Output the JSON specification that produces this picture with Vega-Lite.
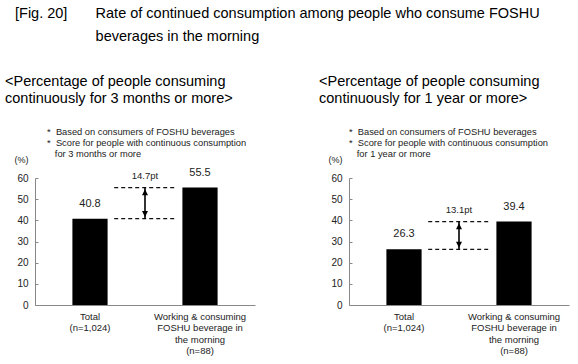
{
  "$schema": "https://vega.github.io/schema/vega-lite/v6.json",
  "padding": {"left": 5, "top": 5, "right": 5, "bottom": 5},
  "config": {
    "font": "Liberation Sans",
    "view": {"stroke": null},
    "axis": {"grid": false, "domainColor": "#888", "tickColor": "#888", "labelColor": "#222", "labelFont": "Liberation Sans", "titleFont": "Liberation Sans"},
    "axisY": {"labelFontSize": 10, "labelPadding": 10, "tickSize": -3, "labelOverlap": false, "titleAngle": 0, "titleAlign": "right", "titleBaseline": "middle", "titleX": -7, "titleY": -19, "titleFontSize": 9, "titleFontWeight": "normal", "titleColor": "#222"},
    "axisX": {"labelAngle": 0, "labelFontSize": 9.5, "labelLineHeight": 11.5, "labelPadding": 6, "ticks": false},
    "title": {"font": "Liberation Sans", "fontWeight": "normal", "color": "#000"},
    "concat": {"spacing": 64}
  },
  "title": {
    "text": ["[Fig. 20]\u00a0\u00a0\u00a0\u00a0\u00a0\u00a0\u00a0Rate of continued consumption among people who consume FOSHU", "\u200b\u00a0\u00a0\u00a0\u00a0\u00a0\u00a0\u00a0\u00a0\u00a0\u00a0\u00a0\u00a0\u00a0\u00a0\u00a0\u00a0\u00a0\u00a0\u00a0\u00a0beverages in the morning"],
    "anchor": "start", "frame": "bounds", "fontSize": 14.5, "lineHeight": 23, "dx": 10, "offset": 30
  },
  "datasets": {
    "bars": [
      {"panel": "3m", "group": "Total|(n=1,024)", "value": 40.8},
      {"panel": "3m", "group": "Working & consuming|FOSHU beverage in|the morning|(n=88)", "value": 55.5},
      {"panel": "1y", "group": "Total|(n=1,024)", "value": 26.3},
      {"panel": "1y", "group": "Working & consuming|FOSHU beverage in|the morning|(n=88)", "value": 39.4}
    ],
    "diffs": [
      {"panel": "3m", "low": 40.8, "high": 55.5, "diff": "14.7pt"},
      {"panel": "1y", "low": 26.3, "high": 39.4, "diff": "13.1pt"}
    ],
    "notes": [
      {"panel": "3m", "note": ["*\u00a0\u00a0Based on consumers of FOSHU beverages", "*\u00a0\u00a0Score for people with continuous consumption", "\u200b\u00a0\u00a0\u00a0for 3 months or more"]},
      {"panel": "1y", "note": ["*\u00a0\u00a0Based on consumers of FOSHU beverages", "*\u00a0\u00a0Score for people with continuous consumption", "\u200b\u00a0\u00a0\u00a0for 1 year or more"]}
    ]
  },
  "hconcat": [
    {
      "width": 220, "height": 127,
      "title": {"text": ["<Percentage of people consuming ", "continuously for 3 months or more>"], "anchor": "start", "frame": "bounds", "fontSize": 14.5, "lineHeight": 16.5, "dx": -9, "offset": 22},
      "layer": [
        {
          "data": {"name": "bars"}, "transform": [{"filter": "datum.panel === '3m'"}],
          "mark": {"type": "bar", "color": "#000", "width": {"band": 0.32}},
          "encoding": {
            "x": {"field": "group", "type": "nominal", "scale": {"domain": ["Total|(n=1,024)", "Working & consuming|FOSHU beverage in|the morning|(n=88)"], "paddingInner": 0, "paddingOuter": 0},
              "axis": {"title": null, "labelExpr": "split(datum.value, '|')"}},
            "y": {"field": "value", "type": "quantitative", "scale": {"domain": [0, 60], "nice": false},
              "axis": {"values": [0, 10, 20, 30, 40, 50, 60], "title": "(%)"}}
          }
        },
        {
          "data": {"name": "bars"}, "transform": [{"filter": "datum.panel === '3m'"}],
          "mark": {"type": "text", "baseline": "bottom", "dy": -10, "fontSize": 11, "color": "#222"},
          "encoding": {
            "x": {"field": "group", "type": "nominal", "axis": {"title": null, "labelExpr": "split(datum.value, '|')"}},
            "y": {"field": "value", "type": "quantitative", "axis": {"values": [0, 10, 20, 30, 40, 50, 60], "title": "(%)"}},
            "text": {"field": "value", "type": "quantitative", "format": ".1f"}
          }
        },
        {
          "data": {"name": "diffs"}, "transform": [{"filter": "datum.panel === '3m'"}],
          "mark": {"type": "rule", "strokeDash": [4, 3], "strokeWidth": 1.3, "color": "#111"},
          "encoding": {
            "x": {"datum": "Total|(n=1,024)", "type": "nominal", "bandPosition": 0.72, "axis": {"title": null, "labelExpr": "split(datum.value, '|')"}},
            "x2": {"datum": "Working & consuming|FOSHU beverage in|the morning|(n=88)", "bandPosition": 0.27},
            "y": {"field": "low", "type": "quantitative", "axis": {"values": [0, 10, 20, 30, 40, 50, 60], "title": "(%)"}}
          }
        },
        {
          "data": {"name": "diffs"}, "transform": [{"filter": "datum.panel === '3m'"}],
          "mark": {"type": "rule", "strokeDash": [4, 3], "strokeWidth": 1.3, "color": "#111"},
          "encoding": {
            "x": {"datum": "Total|(n=1,024)", "type": "nominal", "bandPosition": 0.72, "axis": {"title": null, "labelExpr": "split(datum.value, '|')"}},
            "x2": {"datum": "Working & consuming|FOSHU beverage in|the morning|(n=88)", "bandPosition": 0.27},
            "y": {"field": "high", "type": "quantitative", "axis": {"values": [0, 10, 20, 30, 40, 50, 60], "title": "(%)"}}
          }
        },
        {
          "data": {"name": "diffs"}, "transform": [{"filter": "datum.panel === '3m'"}],
          "mark": {"type": "rule", "strokeWidth": 1.6, "color": "#000"},
          "encoding": {
            "x": {"datum": "Total|(n=1,024)", "type": "nominal", "bandPosition": 1, "axis": {"title": null, "labelExpr": "split(datum.value, '|')"}},
            "y": {"field": "low", "type": "quantitative", "axis": {"values": [0, 10, 20, 30, 40, 50, 60], "title": "(%)"}},
            "y2": {"field": "high"}
          }
        },
        {
          "data": {"name": "diffs"}, "transform": [{"filter": "datum.panel === '3m'"}],
          "mark": {"type": "point", "filled": true, "opacity": 1, "color": "#000", "size": 121, "shape": "M0,0.3L0.55,1.4L-0.55,1.4Z"},
          "encoding": {
            "x": {"datum": "Total|(n=1,024)", "type": "nominal", "bandPosition": 1, "axis": {"title": null, "labelExpr": "split(datum.value, '|')"}},
            "y": {"field": "high", "type": "quantitative", "axis": {"values": [0, 10, 20, 30, 40, 50, 60], "title": "(%)"}}
          }
        },
        {
          "data": {"name": "diffs"}, "transform": [{"filter": "datum.panel === '3m'"}],
          "mark": {"type": "point", "filled": true, "opacity": 1, "color": "#000", "size": 121, "shape": "M0,-0.3L0.55,-1.4L-0.55,-1.4Z"},
          "encoding": {
            "x": {"datum": "Total|(n=1,024)", "type": "nominal", "bandPosition": 1, "axis": {"title": null, "labelExpr": "split(datum.value, '|')"}},
            "y": {"field": "low", "type": "quantitative", "axis": {"values": [0, 10, 20, 30, 40, 50, 60], "title": "(%)"}}
          }
        },
        {
          "data": {"name": "diffs"}, "transform": [{"filter": "datum.panel === '3m'"}],
          "mark": {"type": "text", "baseline": "bottom", "dy": -7, "fontSize": 9.5, "color": "#222"},
          "encoding": {
            "x": {"datum": "Total|(n=1,024)", "type": "nominal", "bandPosition": 1, "axis": {"title": null, "labelExpr": "split(datum.value, '|')"}},
            "y": {"field": "high", "type": "quantitative", "axis": {"values": [0, 10, 20, 30, 40, 50, 60], "title": "(%)"}},
            "text": {"field": "diff", "type": "nominal"}
          }
        },
        {
          "data": {"name": "notes"}, "transform": [{"filter": "datum.panel === '3m'"}],
          "mark": {"type": "text", "align": "left", "baseline": "top", "dy": -50, "fontSize": 9.3, "lineHeight": 11, "color": "#222"},
          "encoding": {
            "x": {"datum": "Total|(n=1,024)", "type": "nominal", "bandPosition": 0.11, "axis": {"title": null, "labelExpr": "split(datum.value, '|')"}},
            "y": {"datum": 60, "type": "quantitative", "axis": {"values": [0, 10, 20, 30, 40, 50, 60], "title": "(%)"}},
            "text": {"field": "note", "type": "nominal"}
          }
        }
      ]
    },
    {
      "width": 220, "height": 127,
      "title": {"text": ["<Percentage of people consuming ", "continuously for 1 year or more>"], "anchor": "start", "frame": "bounds", "fontSize": 14.5, "lineHeight": 16.5, "dx": -9, "offset": 22},
      "layer": [
        {
          "data": {"name": "bars"}, "transform": [{"filter": "datum.panel === '1y'"}],
          "mark": {"type": "bar", "color": "#000", "width": {"band": 0.32}},
          "encoding": {
            "x": {"field": "group", "type": "nominal", "scale": {"domain": ["Total|(n=1,024)", "Working & consuming|FOSHU beverage in|the morning|(n=88)"], "paddingInner": 0, "paddingOuter": 0},
              "axis": {"title": null, "labelExpr": "split(datum.value, '|')"}},
            "y": {"field": "value", "type": "quantitative", "scale": {"domain": [0, 60], "nice": false},
              "axis": {"values": [0, 10, 20, 30, 40, 50, 60], "title": "(%)"}}
          }
        },
        {
          "data": {"name": "bars"}, "transform": [{"filter": "datum.panel === '1y'"}],
          "mark": {"type": "text", "baseline": "bottom", "dy": -10, "fontSize": 11, "color": "#222"},
          "encoding": {
            "x": {"field": "group", "type": "nominal", "axis": {"title": null, "labelExpr": "split(datum.value, '|')"}},
            "y": {"field": "value", "type": "quantitative", "axis": {"values": [0, 10, 20, 30, 40, 50, 60], "title": "(%)"}},
            "text": {"field": "value", "type": "quantitative", "format": ".1f"}
          }
        },
        {
          "data": {"name": "diffs"}, "transform": [{"filter": "datum.panel === '1y'"}],
          "mark": {"type": "rule", "strokeDash": [4, 3], "strokeWidth": 1.3, "color": "#111"},
          "encoding": {
            "x": {"datum": "Total|(n=1,024)", "type": "nominal", "bandPosition": 0.72, "axis": {"title": null, "labelExpr": "split(datum.value, '|')"}},
            "x2": {"datum": "Working & consuming|FOSHU beverage in|the morning|(n=88)", "bandPosition": 0.27},
            "y": {"field": "low", "type": "quantitative", "axis": {"values": [0, 10, 20, 30, 40, 50, 60], "title": "(%)"}}
          }
        },
        {
          "data": {"name": "diffs"}, "transform": [{"filter": "datum.panel === '1y'"}],
          "mark": {"type": "rule", "strokeDash": [4, 3], "strokeWidth": 1.3, "color": "#111"},
          "encoding": {
            "x": {"datum": "Total|(n=1,024)", "type": "nominal", "bandPosition": 0.72, "axis": {"title": null, "labelExpr": "split(datum.value, '|')"}},
            "x2": {"datum": "Working & consuming|FOSHU beverage in|the morning|(n=88)", "bandPosition": 0.27},
            "y": {"field": "high", "type": "quantitative", "axis": {"values": [0, 10, 20, 30, 40, 50, 60], "title": "(%)"}}
          }
        },
        {
          "data": {"name": "diffs"}, "transform": [{"filter": "datum.panel === '1y'"}],
          "mark": {"type": "rule", "strokeWidth": 1.6, "color": "#000"},
          "encoding": {
            "x": {"datum": "Total|(n=1,024)", "type": "nominal", "bandPosition": 1, "axis": {"title": null, "labelExpr": "split(datum.value, '|')"}},
            "y": {"field": "low", "type": "quantitative", "axis": {"values": [0, 10, 20, 30, 40, 50, 60], "title": "(%)"}},
            "y2": {"field": "high"}
          }
        },
        {
          "data": {"name": "diffs"}, "transform": [{"filter": "datum.panel === '1y'"}],
          "mark": {"type": "point", "filled": true, "opacity": 1, "color": "#000", "size": 121, "shape": "M0,0.3L0.55,1.4L-0.55,1.4Z"},
          "encoding": {
            "x": {"datum": "Total|(n=1,024)", "type": "nominal", "bandPosition": 1, "axis": {"title": null, "labelExpr": "split(datum.value, '|')"}},
            "y": {"field": "high", "type": "quantitative", "axis": {"values": [0, 10, 20, 30, 40, 50, 60], "title": "(%)"}}
          }
        },
        {
          "data": {"name": "diffs"}, "transform": [{"filter": "datum.panel === '1y'"}],
          "mark": {"type": "point", "filled": true, "opacity": 1, "color": "#000", "size": 121, "shape": "M0,-0.3L0.55,-1.4L-0.55,-1.4Z"},
          "encoding": {
            "x": {"datum": "Total|(n=1,024)", "type": "nominal", "bandPosition": 1, "axis": {"title": null, "labelExpr": "split(datum.value, '|')"}},
            "y": {"field": "low", "type": "quantitative", "axis": {"values": [0, 10, 20, 30, 40, 50, 60], "title": "(%)"}}
          }
        },
        {
          "data": {"name": "diffs"}, "transform": [{"filter": "datum.panel === '1y'"}],
          "mark": {"type": "text", "baseline": "bottom", "dy": -7, "fontSize": 9.5, "color": "#222"},
          "encoding": {
            "x": {"datum": "Total|(n=1,024)", "type": "nominal", "bandPosition": 1, "axis": {"title": null, "labelExpr": "split(datum.value, '|')"}},
            "y": {"field": "high", "type": "quantitative", "axis": {"values": [0, 10, 20, 30, 40, 50, 60], "title": "(%)"}},
            "text": {"field": "diff", "type": "nominal"}
          }
        },
        {
          "data": {"name": "notes"}, "transform": [{"filter": "datum.panel === '1y'"}],
          "mark": {"type": "text", "align": "left", "baseline": "top", "dy": -50, "fontSize": 9.3, "lineHeight": 11, "color": "#222"},
          "encoding": {
            "x": {"datum": "Total|(n=1,024)", "type": "nominal", "bandPosition": 0, "axis": {"title": null, "labelExpr": "split(datum.value, '|')"}},
            "y": {"datum": 60, "type": "quantitative", "axis": {"values": [0, 10, 20, 30, 40, 50, 60], "title": "(%)"}},
            "text": {"field": "note", "type": "nominal"}
          }
        }
      ]
    }
  ]
}
